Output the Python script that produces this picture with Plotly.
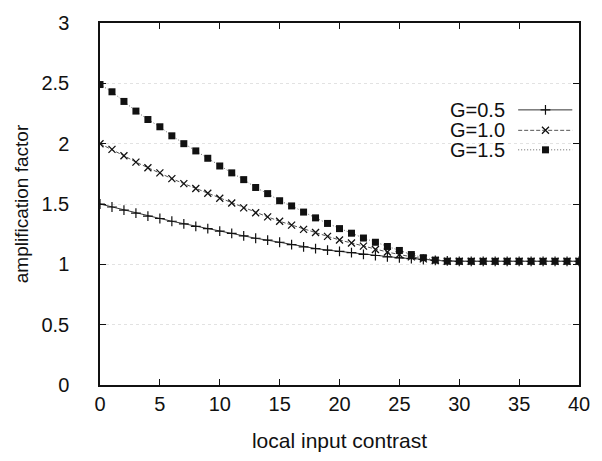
import plotly.graph_objects as go

x = list(range(0, 41))

g05 = [1.500, 1.475, 1.450, 1.425, 1.400, 1.380, 1.357, 1.336, 1.315, 1.296,
       1.276, 1.256, 1.236, 1.216, 1.200, 1.183, 1.163, 1.145, 1.131, 1.118,
       1.107, 1.097, 1.083, 1.073, 1.062, 1.054, 1.048, 1.040, 1.033, 1.028,
       1.025, 1.025, 1.025, 1.025, 1.025, 1.025, 1.025, 1.025, 1.025, 1.025, 1.025]

g10 = [2.000, 1.953, 1.900, 1.847, 1.800, 1.758, 1.710, 1.669, 1.629, 1.589,
       1.548, 1.508, 1.468, 1.427, 1.393, 1.357, 1.325, 1.290, 1.264, 1.232,
       1.202, 1.177, 1.151, 1.123, 1.102, 1.081, 1.062, 1.045, 1.032, 1.026,
       1.025, 1.025, 1.025, 1.025, 1.025, 1.025, 1.025, 1.025, 1.025, 1.025, 1.025]

g15 = [2.490, 2.430, 2.350, 2.270, 2.200, 2.140, 2.065, 2.000, 1.940, 1.879,
       1.815, 1.758, 1.702, 1.637, 1.586, 1.527, 1.484, 1.433, 1.385, 1.339,
       1.296, 1.258, 1.218, 1.183, 1.148, 1.115, 1.081, 1.055, 1.035, 1.026,
       1.025, 1.025, 1.025, 1.025, 1.025, 1.025, 1.025, 1.025, 1.025, 1.025, 1.025]

labels = ["G=0.5", "G=1.0", "G=1.5"]
x_ticks = [0, 5, 10, 15, 20, 25, 30, 35, 40]
y_ticks = [0, 0.5, 1, 1.5, 2, 2.5, 3]
y_ticktext = ["0", "0.5", "1", "1.5", "2", "2.5", "3"]

FONT = "Liberation Sans, Arial, Helvetica, sans-serif"
FS = 20

styles = [
    dict(line=dict(color="#333333", width=1, dash="solid"),
         marker=dict(symbol="cross-thin-open", size=7, color="#111111",
                     line=dict(width=1.2, color="#111111"))),
    dict(line=dict(color="#555555", width=1, dash="4px,2px"),
         marker=dict(symbol="x-thin-open", size=7, color="#111111",
                     line=dict(width=1.3, color="#111111"))),
    dict(line=dict(color="#666666", width=1, dash="1px,2px"),
         marker=dict(symbol="square", size=7, color="#111111",
                     line=dict(width=0))),
]

fig = go.Figure()
for ys, st, name in zip([g05, g10, g15], styles, labels):
    fig.add_trace(go.Scatter(x=x, y=ys, mode="lines+markers", name=name,
                             line=st["line"], marker=st["marker"],
                             showlegend=False))

# gnuplot-style key: text on the left, sample on the right (overlay axes in [0,1])
key_y = [0.760, 0.7035, 0.6496]
for ky, st, name in zip(key_y, styles, labels):
    fig.add_trace(go.Scatter(x=[0.873, 0.986], y=[ky, ky], mode="lines",
                             line=st["line"], xaxis="x2", yaxis="y2",
                             showlegend=False, hoverinfo="skip"))
    fig.add_trace(go.Scatter(x=[0.930], y=[ky], mode="markers",
                             marker=st["marker"], xaxis="x2", yaxis="y2",
                             showlegend=False, hoverinfo="skip"))
    fig.add_annotation(x=0.849, y=ky, xref="paper", yref="paper", text=name,
                       showarrow=False, xanchor="right", yanchor="middle",
                       font=dict(family=FONT, size=FS, color="#111111"))

axis_common = dict(showline=True, linecolor="#111111", linewidth=1.5,
                   mirror="ticks", ticks="inside", ticklen=6,
                   tickcolor="#111111", tickwidth=1, zeroline=False,
                   tickfont=dict(family=FONT, size=FS, color="#111111"))

fig.update_layout(
    width=602, height=461,
    margin=dict(l=100, r=15, t=14, b=76),
    paper_bgcolor="white", plot_bgcolor="white",
    font=dict(family=FONT, size=FS, color="#111111"),
    xaxis=dict(range=[0, 40], tickvals=x_ticks, showgrid=False,
               ticklabelstandoff=0,
               title=dict(text="local input contrast", standoff=20,
                          font=dict(family=FONT, size=21, color="#111111")),
               **axis_common),
    yaxis=dict(range=[0, 3], tickvals=y_ticks, ticktext=y_ticktext,
               showgrid=True, gridcolor="#e2e2e2", griddash="dot", gridwidth=1,
               ticklabelstandoff=25,
               title=dict(text="amplification factor", standoff=8,
                          font=dict(family=FONT, size=19, color="#111111")),
               **axis_common),
    xaxis2=dict(range=[0, 1], overlaying="x", visible=False, fixedrange=True),
    yaxis2=dict(range=[0, 1], overlaying="y", visible=False, fixedrange=True),
)

fig.write_html("out.html")
